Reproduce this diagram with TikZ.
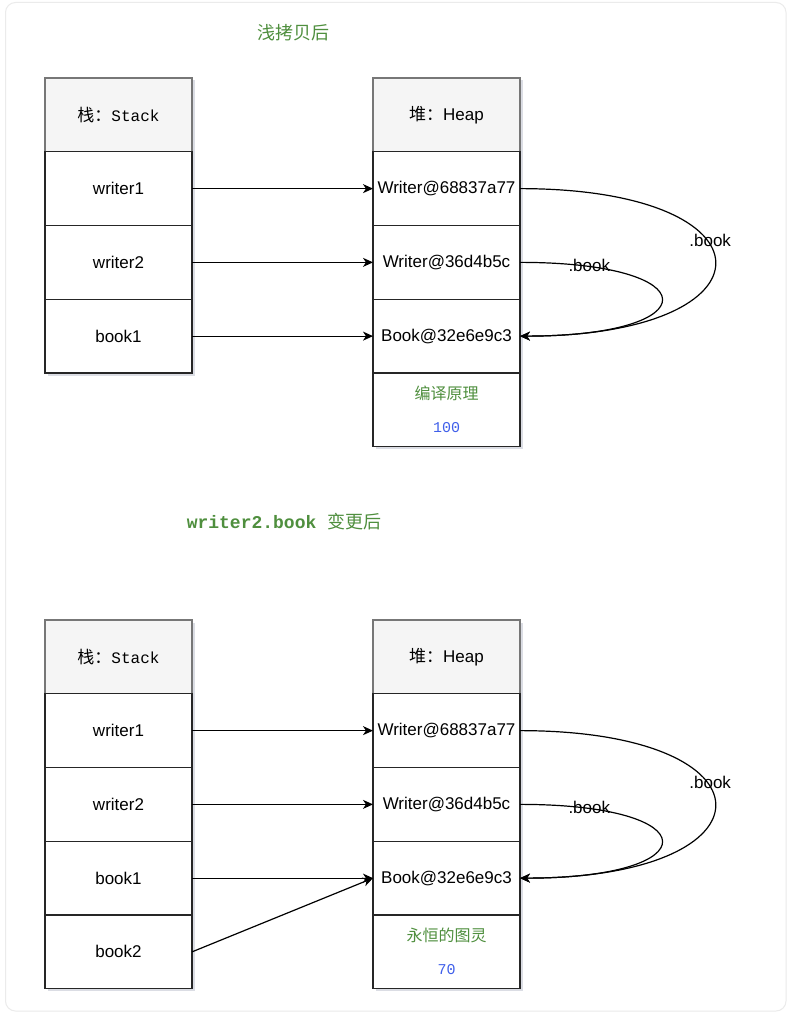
\documentclass[tikz,border=0pt]{standalone}
\usepackage{fontspec}
\setmainfont{Liberation Sans}
\setmonofont{Liberation Mono}
\newfontfamily\cjk{Noto Sans CJK SC}
\usetikzlibrary{arrows.meta,shadows}
\definecolor{titlegreen}{HTML}{4F8F3E}
\definecolor{valblue}{HTML}{3F5FEA}
\definecolor{hdrfill}{HTML}{F5F5F5}
\definecolor{hdrline}{HTML}{777777}
\definecolor{shadowc}{HTML}{8890A8}
\tikzset{
  cellbox/.style={draw=black!85, line width=1.2pt, fill=white, minimum width=147pt, minimum height=73.75pt,
    inner sep=0pt, outer sep=0pt, anchor=north west, font=\fontsize{17}{20}\selectfont,
    drop shadow={shadow xshift=2.5pt, shadow yshift=-2.5pt, opacity=0.3, fill=shadowc}},
  hdrbox/.style={cellbox, draw=hdrline, fill=hdrfill},
  ptr/.style={line width=1.2pt, -{Stealth[length=10pt,width=9pt,inset=3pt]}},
  edgelbl/.style={font=\fontsize{17}{20}\selectfont, inner sep=0pt},
  ttl/.style={text=titlegreen, font=\fontsize{18}{22}\selectfont},
  datagreen/.style={text=titlegreen, font=\fontsize{16}{19}\selectfont\cjk},
  datablue/.style={text=valblue, font=\fontsize{15}{18}\selectfont\ttfamily},
}
\begin{document}
\begin{tikzpicture}[x=1pt,y=-1pt]
\useasboundingbox (0,0) rectangle (800,1024);
\fill[white] (0,0) rectangle (800,1024);
\draw[black!8, line width=1pt, rounded corners=10pt] (5.5,2.5) rectangle (786,1011);

% ---------- top diagram ----------
\node[ttl] (t1) at (293,33) {\cjk 浅拷贝后};

\node[hdrbox] (sh) at (45,78) {{\cjk 栈：}{\ttfamily\fontsize{16}{19}\selectfont Stack}};
\node[cellbox] (s1) at (45,151.75) {writer1};
\node[cellbox] (s2) at (45,225.5) {writer2};
\node[cellbox] (s3) at (45,299.25) {book1};

\node[hdrbox] (hh) at (373,78) {{\cjk 堆：}Heap};
\node[cellbox] (h1) at (373,151.75) {Writer@68837a77};
\node[cellbox] (h2) at (373,225.5) {Writer@36d4b5c};
\node[cellbox] (h3) at (373,299.25) {Book@32e6e9c3};
\node[cellbox] (h4) at (373,373) {};
\node[datagreen] (d1) at (446.5,393) {编译原理};
\node[datablue] (v1) at (446.5,428) {100};

\draw[ptr] (s1.east) -- (h1.west);
\draw[ptr] (s2.east) -- (h2.west);
\draw[ptr] (s3.east) -- (h3.west);
\draw[ptr] (h1.east) .. controls +(260,0) and +(260,0) .. (h3.east)
  node[edgelbl, pos=0.4, xshift=3pt] {.book};
\draw[ptr] (h2.east) .. controls +(189,0) and +(189,0) .. (h3.east)
  node[edgelbl, pos=0.15, xshift=-3pt, yshift=1pt] {.book};

% ---------- bottom diagram ----------
\node[ttl] (t2) at (284,522) {{\ttfamily\bfseries writer2.book}\hspace{0.6em}{\cjk 变更后}};

\node[hdrbox] (bsh) at (45,620) {{\cjk 栈：}{\ttfamily\fontsize{16}{19}\selectfont Stack}};
\node[cellbox] (bs1) at (45,693.75) {writer1};
\node[cellbox] (bs2) at (45,767.5) {writer2};
\node[cellbox] (bs3) at (45,841.25) {book1};
\node[cellbox] (bs4) at (45,915) {book2};

\node[hdrbox] (bhh) at (373,620) {{\cjk 堆：}Heap};
\node[cellbox] (bh1) at (373,693.75) {Writer@68837a77};
\node[cellbox] (bh2) at (373,767.5) {Writer@36d4b5c};
\node[cellbox] (bh3) at (373,841.25) {Book@32e6e9c3};
\node[cellbox] (bh4) at (373,915) {};
\node[datagreen] (d2) at (446.5,935) {永恒的图灵};
\node[datablue] (v2) at (446.5,970) {70};

\draw[ptr] (bs1.east) -- (bh1.west);
\draw[ptr] (bs2.east) -- (bh2.west);
\draw[ptr] (bs3.east) -- (bh3.west);
\draw[ptr] (bs4.east) -- (bh3.west);
\draw[ptr] (bh1.east) .. controls +(260,0) and +(260,0) .. (bh3.east)
  node[edgelbl, pos=0.4, xshift=3pt] {.book};
\draw[ptr] (bh2.east) .. controls +(189,0) and +(189,0) .. (bh3.east)
  node[edgelbl, pos=0.15, xshift=-3pt, yshift=1pt] {.book};
\end{tikzpicture}
\end{document}
